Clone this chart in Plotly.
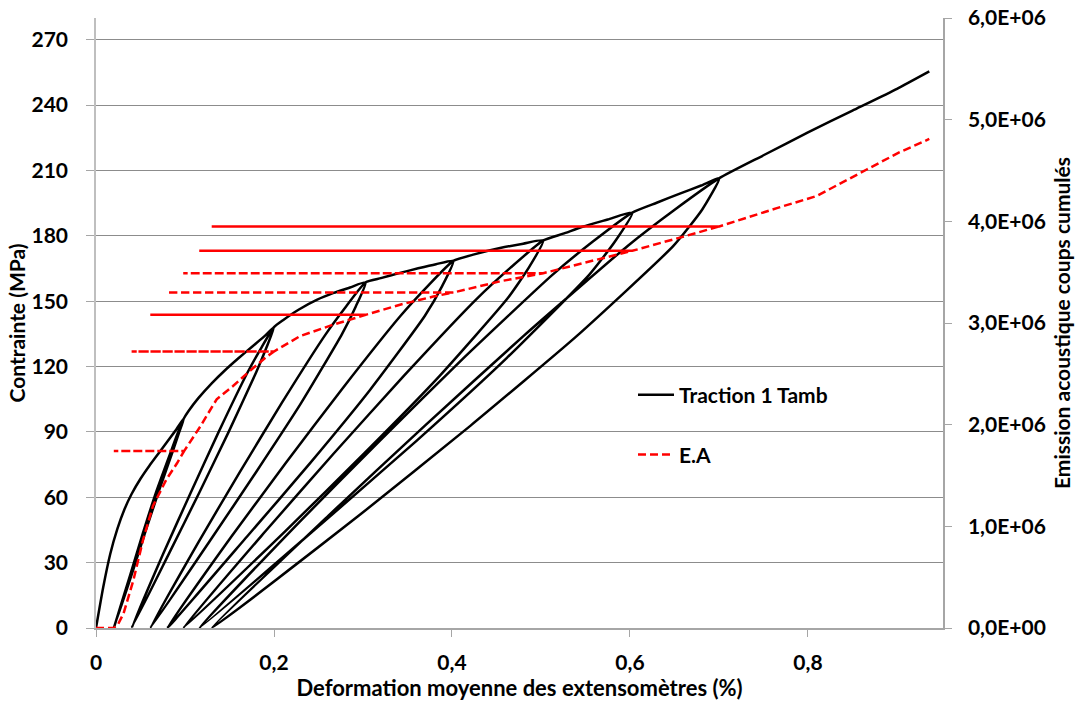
import plotly.graph_objects as go

# ---------------- Data ----------------
# Black curve: stress (MPa) vs mean strain (%)
first_load_x = [0, 0.008, 0.016, 0.024, 0.032, 0.040, 0.050, 0.060, 0.070, 0.080, 0.090, 0.099]
first_load_y = [0, 18.5, 34.0, 45.5, 54.5, 61.5, 68.5, 74.5, 80.0, 85.5, 91.0, 96.4]

# unloading branches (peak -> residual strain), one list per cycle
unload_x = [
    [0.099, 0.0933, 0.0869, 0.0705, 0.0549, 0.0397, 0.020],
    [0.200, 0.1912, 0.180, 0.1488, 0.116, 0.0824, 0.040],
    [0.303, 0.2919, 0.2764, 0.2304, 0.1796, 0.1275, 0.061],
    [0.4015, 0.3886, 0.3694, 0.3083, 0.2408, 0.170, 0.080],
    [0.5026, 0.4863, 0.4623, 0.3859, 0.3013, 0.2128, 0.098],
    [0.6026, 0.5831, 0.5541, 0.4617, 0.3598, 0.253, 0.116],
    [0.7004, 0.681, 0.649, 0.5407, 0.4209, 0.2954, 0.130],
]
unload_y = [
    [96.4, 89.7, 81.9, 62.7, 43.4, 24.1, 0],
    [138.1, 128.4, 117.4, 89.8, 62.1, 34.5, 0],
    [158.7, 147.6, 134.9, 103.2, 71.4, 39.7, 0],
    [168.5, 156.7, 143.2, 109.5, 75.8, 42.1, 0],
    [177.9, 165.4, 151.2, 115.6, 80.1, 44.5, 0],
    [190.7, 177.4, 162.1, 124.0, 85.8, 47.7, 0],
    [206.5, 192.0, 175.5, 134.2, 92.9, 51.6, 0],
]
# reloading branches (residual strain -> previous peak)
reload_x = [
    [0.020, 0.0382, 0.0526, 0.0678, 0.085, 0.0921, 0.099],
    [0.040, 0.076, 0.1064, 0.1376, 0.1704, 0.1854, 0.200],
    [0.061, 0.1155, 0.1614, 0.2086, 0.2582, 0.281, 0.303],
    [0.080, 0.1524, 0.2134, 0.2761, 0.342, 0.3722, 0.4015],
    [0.098, 0.1906, 0.2671, 0.3456, 0.4281, 0.4658, 0.5026],
    [0.116, 0.2263, 0.3185, 0.4132, 0.5128, 0.5583, 0.6026],
    [0.130, 0.2612, 0.3696, 0.4808, 0.5977, 0.6502, 0.7004],
]
reload_y = [
    [0, 24.1, 43.4, 62.7, 81.9, 89.7, 96.4],
    [0, 34.5, 62.1, 89.8, 117.4, 128.4, 138.1],
    [0, 39.7, 71.4, 103.2, 134.9, 147.6, 158.7],
    [0, 42.1, 75.8, 109.5, 143.2, 156.7, 168.5],
    [0, 44.5, 80.1, 115.6, 151.2, 165.4, 177.9],
    [0, 47.7, 85.8, 124.0, 162.1, 177.4, 190.7],
    [0, 51.6, 92.9, 134.2, 175.5, 192.0, 206.5],
]
# loading beyond the previous peak up to the next one
envelope_x = [
    [0.099, 0.104, 0.115, 0.130, 0.145, 0.160, 0.175, 0.190, 0.200],
    [0.200, 0.2105, 0.228, 0.248, 0.267, 0.2854, 0.303],
    [0.303, 0.320, 0.3416, 0.362, 0.382, 0.4015],
    [0.4015, 0.425, 0.454, 0.480, 0.5026],
    [0.5026, 0.525, 0.5476, 0.575, 0.6026],
    [0.6026, 0.630, 0.656, 0.680, 0.7004],
    [0.7004, 0.75, 0.80, 0.85, 0.90, 0.9363],
]
envelope_y = [
    [96.4, 99.6, 105.5, 112.3, 118.3, 123.8, 129.0, 134.2, 138.1],
    [138.1, 141.4, 146.2, 150.6, 153.8, 156.3, 158.7],
    [158.7, 160.6, 163.0, 165.1, 167.0, 168.5],
    [168.5, 171.5, 174.4, 176.4, 177.9],
    [177.9, 181.0, 184.3, 187.5, 190.7],
    [190.7, 195.2, 199.4, 203.1, 206.5],
    [206.5, 217.0, 227.5, 237.5, 247.5, 255.5],
]

# Red curve: cumulated acoustic emission counts
ea_first_x = [0, 0.020, 0.025, 0.031, 0.042, 0.053, 0.064, 0.079, 0.091, 0.099]
ea_first_y = [0, 0, 0.04e6, 0.145e6, 0.47e6, 0.87e6, 1.20e6, 1.46e6, 1.62e6, 1.74e6]
ea_levels = [1.74e6, 2.72e6, 3.08e6, 3.30e6, 3.49e6, 3.71e6, 3.95e6]
ea_seg_x = [
    [0.099, 0.117, 0.1356, 0.154, 0.173, 0.192, 0.200],
    [0.200, 0.229, 0.267, 0.303],
    [0.303, 0.3416, 0.379, 0.4015],
    [0.4015, 0.454, 0.5026],
    [0.5026, 0.5476, 0.6026],
    [0.6026, 0.656, 0.7004],
    [0.7004, 0.765, 0.81, 0.866, 0.903, 0.9363],
]
ea_seg_y = [
    [1.74e6, 1.98e6, 2.25e6, 2.38e6, 2.53e6, 2.67e6, 2.72e6],
    [2.72e6, 2.87e6, 2.985e6, 3.08e6],
    [3.08e6, 3.18e6, 3.26e6, 3.30e6],
    [3.30e6, 3.41e6, 3.49e6],
    [3.49e6, 3.59e6, 3.71e6],
    [3.71e6, 3.84e6, 3.95e6],
    [3.95e6, 4.13e6, 4.25e6, 4.51e6, 4.68e6, 4.81e6],
]

x_ticks = [0, 0.2, 0.4, 0.6, 0.8]
x_tick_text = ["0", "0,2", "0,4", "0,6", "0,8"]
y_ticks = [0, 30, 60, 90, 120, 150, 180, 210, 240, 270]
y2_ticks = [0, 1e6, 2e6, 3e6, 4e6, 5e6, 6e6]
y2_tick_text = ["0,0E+00", "1,0E+06", "2,0E+06", "3,0E+06", "4,0E+06", "5,0E+06", "6,0E+06"]

# ---------------- Assemble the paths ----------------
bx, by = list(first_load_x), list(first_load_y)
for i in range(7):
    bx += unload_x[i][1:] + reload_x[i][1:] + envelope_x[i][1:]
    by += unload_y[i][1:] + reload_y[i][1:] + envelope_y[i][1:]

rx, ry = list(ea_first_x), list(ea_first_y)
for i in range(7):
    peak_x = reload_x[i][-1]
    res_x = reload_x[i][0]
    rx += [res_x, peak_x] + ea_seg_x[i][1:]
    ry += [ea_levels[i], ea_levels[i]] + ea_seg_y[i][1:]

FONT = "Lato"
tickfont = dict(family=FONT, size=21, color="black", weight="bold")
titlefont = dict(family=FONT, size=21, color="black", weight="bold")
xtitlefont = dict(family=FONT, size=22, color="black", weight="bold")
legfont = dict(family=FONT, size=21, color="black", weight="bold")

fig = go.Figure()
fig.add_trace(go.Scatter(x=bx, y=by, mode="lines", name="Traction 1 Tamb",
                         line=dict(color="black", width=2.5, shape="spline", smoothing=0.5),
                         legend="legend", showlegend=True))
fig.add_trace(go.Scatter(x=rx, y=ry, mode="lines", name="E.A", yaxis="y2",
                         line=dict(color="#ff0000", width=2.5, dash="8px,4px"),
                         legend="legend2", showlegend=True))

fig.update_layout(
    width=1077, height=709,
    margin=dict(l=96, r=134, t=18, b=81),
    paper_bgcolor="white", plot_bgcolor="white",
    showlegend=True,
    font=dict(family=FONT, size=18, color="black"),
    xaxis=dict(range=[0, 0.9517], tickvals=x_ticks, ticktext=x_tick_text,
               automargin=False,
               showgrid=False, zeroline=False, showline=True, linecolor="#a6a6a6",
               linewidth=1.5, ticks="outside", ticklen=7, tickcolor="#a6a6a6",
               tickfont=tickfont, ticklabelstandoff=8,
               title=dict(text="Deformation moyenne des extensomètres (%)",
                          font=xtitlefont, standoff=6)),
    yaxis=dict(range=[0, 280], tickvals=y_ticks, showgrid=True, gridcolor="#8c8c8c",
               automargin=False,
               gridwidth=1, zeroline=False, showline=True, linecolor="#bfbfbf",
               linewidth=1.5, ticks="outside", ticklen=8, tickcolor="#a6a6a6",
               tickfont=tickfont, ticklabelstandoff=14,
               title=dict(text="Contrainte (MPa)", font=titlefont, standoff=0)),
    yaxis2=dict(range=[0, 6e6], tickvals=y2_ticks, ticktext=y2_tick_text,
                automargin=False,
                overlaying="y", side="right", showgrid=False, zeroline=False,
                showline=True, linecolor="#a6a6a6", linewidth=1.5, ticks="outside",
                ticklen=7, tickcolor="#a6a6a6", tickfont=tickfont, ticklabelstandoff=12,
                title=dict(text="Emission acoustique coups cumulés",
                           font=titlefont, standoff=10)),
    legend=dict(x=0.634, y=0.382, xanchor="left", yanchor="middle", itemwidth=36,
                bgcolor="rgba(0,0,0,0)", font=legfont),
    legend2=dict(x=0.634, y=0.284, xanchor="left", yanchor="middle", itemwidth=36,
                 bgcolor="rgba(0,0,0,0)", font=legfont),
)

fig.write_html("out.html", config={"displayModeBar": False},
               post_script="document.body.style.margin='0px';")
